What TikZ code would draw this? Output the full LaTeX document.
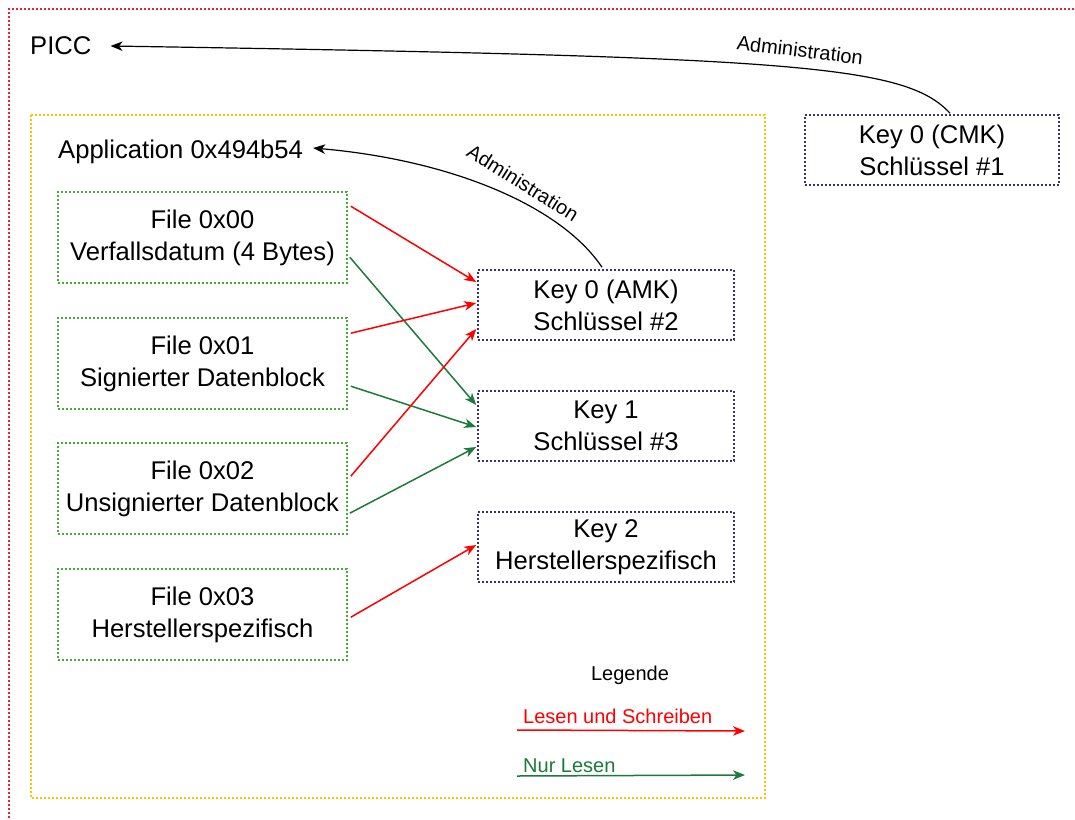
\documentclass[tikz,border=0pt]{standalone}
\usepackage{fontspec}
\setmainfont{Liberation Sans}
\usetikzlibrary{arrows.meta,calc}
\definecolor{outerred}{RGB}{240,30,50}
\definecolor{appyellow}{RGB}{255,196,0}
\definecolor{filegreen}{RGB}{70,172,55}
\definecolor{keyblue}{RGB}{58,50,110}
\definecolor{rwred}{RGB}{255,0,0}
\definecolor{rogreen}{RGB}{30,122,60}
\tikzset{
  dotline/.style={line width=1.6pt, dash pattern=on 2pt off 2pt},
  filebox/.style={draw=filegreen, dotline, minimum width=289pt, minimum height=91pt, inner sep=0pt, align=center, font=\fontsize{25.6}{32}\selectfont},
  keybox/.style={draw=keyblue, dotline, minimum width=256pt, minimum height=70pt, inner sep=0pt, align=center, font=\fontsize{25.6}{32}\selectfont},
  bigtext/.style={font=\fontsize{25.6}{32}\selectfont, inner sep=0pt},
  smalltext/.style={font=\fontsize{20}{24}\selectfont, inner sep=0pt},
  tip/.style={-{Stealth[length=12pt,width=9.5pt,inset=3.5pt]}},
  rw/.style={tip, draw=rwred, line width=1.5pt},
  ro/.style={tip, draw=rogreen, line width=1.5pt},
  admin/.style={tip, draw=black, line width=1.2pt},
}
\begin{document}
\begin{tikzpicture}[x=1pt,y=-1pt]
\useasboundingbox (0,0) rectangle (1075,819);
\fill[white] (0,0) rectangle (1075,819);
% outer PICC frame
\draw[outerred, dotline] (1090,9) -- (9,9) -- (9,830);
% application frame
\draw[appyellow, dotline] (31,115) rectangle (765,798);

\node[bigtext, anchor=west] (picc) at (30,46) {PICC};
\node[bigtext, anchor=west] (app) at (58,152) {Application 0x494b54};

\node[keybox, minimum width=254pt] (cmk) at (932,150) {Key 0 (CMK)\\Schlüssel \#1};

\node[filebox] (f0) at (202.5,237.5) {File 0x00\\Verfallsdatum (4 Bytes)};
\node[filebox] (f1) at (202.5,363.5) {File 0x01\\Signierter Datenblock};
\node[filebox] (f2) at (202.5,488.5) {File 0x02\\Unsignierter Datenblock};
\node[filebox] (f3) at (202.5,614.5) {File 0x03\\Herstellerspezifisch};

\node[keybox] (amk) at (606,305) {Key 0 (AMK)\\Schlüssel \#2};
\node[keybox] (k1) at (606,426) {Key 1\\Schlüssel \#3};
\node[keybox] (k2) at (606,547) {Key 2\\Herstellerspezifisch};

% administration arrows
\draw[admin] ($(cmk.north)+(18,-1)$) .. controls (905,65) and (800,57) .. ($(picc.east)+(19,0)$);
\node[smalltext, rotate=-7] (adm1) at (800,50) {Administration};
\draw[admin] ($(amk.north)+(-4,-2)$) .. controls (560,205) and (450,160) .. ($(app.east)+(10,-4)$);
\node[smalltext, rotate=-32] (adm2) at (523,183) {Administration};

% access arrows
\draw[rw] ($(f0.north east)+(3,15)$) -- ($(amk.west)+(-1,-23)$);
\draw[ro] ($(f0.north east)+(2,66)$) -- ($(k1.west)+(-1,-21)$);
\draw[rw] ($(f1.north east)+(3,16)$) -- ($(amk.west)+(-1,-2)$);
\draw[ro] ($(f1.north east)+(3,69)$) -- ($(k1.west)+(-1,1)$);
\draw[rw] ($(f2.north east)+(3,34)$) -- ($(amk.west)+(-1,24)$);
\draw[ro] ($(f2.north east)+(2,71)$) -- ($(k1.west)+(-1,21)$);
\draw[rw] ($(f3.north east)+(3,49)$) -- ($(k2.west)+(-1,-2)$);

% legend
\node[smalltext] (leg) at (630,675) {Legende};
\coordinate (rwa) at (517,730);
\coordinate (rwb) at (745,731);
\draw[rw] (rwa) -- (rwb);
\node[smalltext, anchor=west, text=rwred] (rwl) at (523,716) {Lesen und Schreiben};
\coordinate (roa) at (517,776);
\coordinate (rob) at (745,775);
\draw[ro] (roa) -- (rob);
\node[smalltext, anchor=west, text=rogreen] (rol) at (523,766) {Nur Lesen};
\end{tikzpicture}
\end{document}
